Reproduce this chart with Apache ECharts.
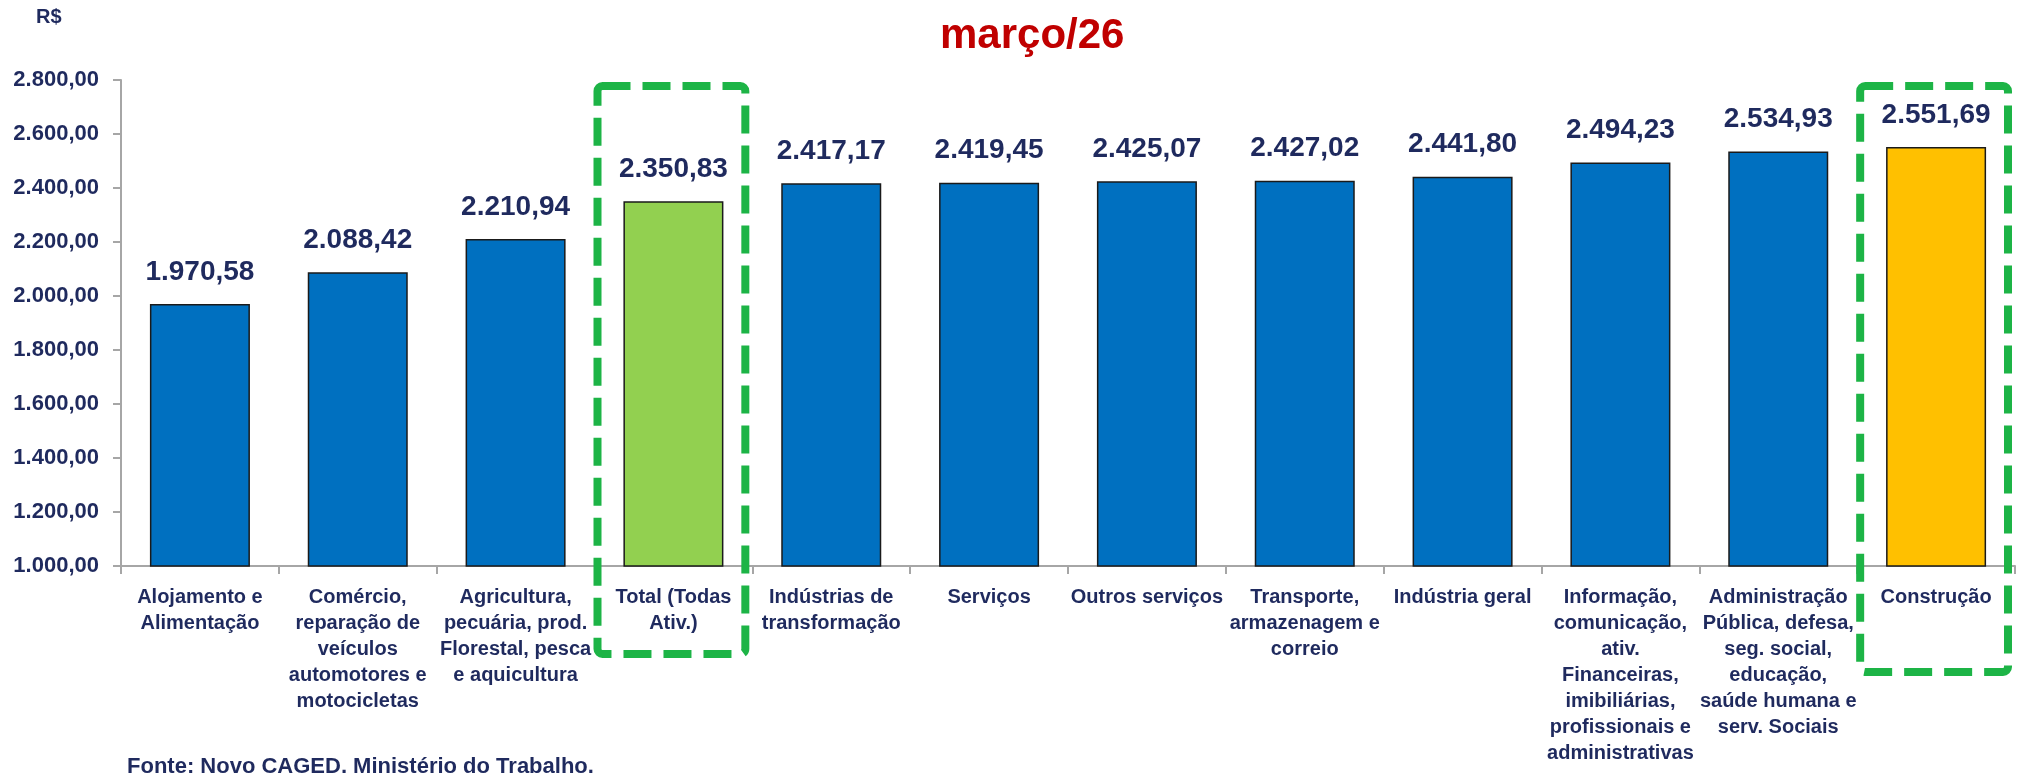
<!DOCTYPE html>
<html>
<head>
<meta charset="utf-8">
<script src="https://cdn.jsdelivr.net/npm/echarts@6/dist/echarts.min.js"></script>
<style>
  html, body { margin: 0; padding: 0; background: #fff; }
  #main { width: 2018px; height: 773px; }
</style>
</head>
<body>
<div id="main"></div>
<script>
// categorias (quebras de linha como no gráfico original)
const categories = [
  'Alojamento e\nAlimentação',
  'Comércio,\nreparação de\nveículos\nautomotores e\nmotocicletas',
  'Agricultura,\npecuária, prod.\nFlorestal, pesca\ne aquicultura',
  'Total (Todas\nAtiv.)',
  'Indústrias de\ntransformação',
  'Serviços',
  'Outros serviços',
  'Transporte,\narmazenagem e\ncorreio',
  'Indústria geral',
  'Informação,\ncomunicação,\nativ.\nFinanceiras,\nimibiliárias,\nprofissionais e\nadministrativas',
  'Administração\nPública, defesa,\nseg. social,\neducação,\nsaúde humana e\nserv. Sociais',
  'Construção'
];
// salário médio de admissão (R$)
const salaries = [1970.58, 2088.42, 2210.94, 2350.83, 2417.17, 2419.45, 2425.07, 2427.02, 2441.80, 2494.23, 2534.93, 2551.69];
const barColors = ['#0070C0', '#0070C0', '#0070C0', '#92D050', '#0070C0', '#0070C0', '#0070C0', '#0070C0', '#0070C0', '#0070C0', '#0070C0', '#FFC000'];
const highlighted = [3, 11];   // caixas tracejadas
const boxBottoms = [654, 672];
const yMin = 1000, yMax = 2800, yStep = 200;

const navy = '#1F2A5E';
const font = '"Liberation Sans", Arial, sans-serif';

function brl(v) {
  return v.toLocaleString('pt-BR', { minimumFractionDigits: 2, maximumFractionDigits: 2 });
}

const chart = echarts.init(document.getElementById('main'));

chart.setOption({
  animation: false,
  title: {
    text: 'março/26',
    left: 935, top: 10,
    textStyle: { color: '#C00000', fontSize: 42, fontWeight: 'bold', fontFamily: font }
  },
  grid: { left: 121, right: 3, top: 80, bottom: 207, containLabel: false, outerBoundsMode: 'none' },
  xAxis: {
    type: 'category',
    data: categories,
    axisLine: { lineStyle: { color: '#A6A6A6', width: 2 } },
    axisTick: { show: true, alignWithLabel: false, length: 8, lineStyle: { color: '#A6A6A6', width: 2 } },
    axisLabel: {
      interval: 0, margin: 18,
      color: navy, fontSize: 20, fontWeight: 'bold', fontFamily: font, lineHeight: 26
    }
  },
  yAxis: {
    type: 'value',
    min: yMin, max: yMax, interval: yStep,
    splitLine: { show: false },
    axisLine: { show: true, lineStyle: { color: '#A6A6A6', width: 2 } },
    axisTick: { show: true, length: 8, lineStyle: { color: '#A6A6A6', width: 2 } },
    axisLabel: {
      margin: 22, color: navy, fontSize: 22, fontWeight: 'bold', fontFamily: font,
      formatter: brl
    }
  },
  series: [{
    type: 'bar',
    barWidth: 100,
    data: salaries.map((v, i) => ({ value: v, itemStyle: { color: barColors[i] } })),
    itemStyle: { borderColor: '#1a1a1a', borderWidth: 1.5 },
    label: {
      show: true, position: 'top', distance: 18,
      color: navy, fontSize: 28, fontWeight: 'bold', fontFamily: font,
      formatter: p => brl(p.value)
    }
  }]
});

// caixas tracejadas em torno das categorias destacadas
const yTop = chart.convertToPixel({ yAxisIndex: 0 }, yMax) + 6;
const step = chart.convertToPixel({ xAxisIndex: 0 }, 1) - chart.convertToPixel({ xAxisIndex: 0 }, 0);
const graphics = [
  {
    id: 'rs', type: 'text', left: 36, top: 7,
    style: { text: 'R$', fill: navy, font: 'bold 20px ' + font }
  },
  {
    id: 'fonte', type: 'text', left: 127, top: 756,
    style: { text: 'Fonte: Novo CAGED, Ministério do Trabalho.', fill: navy, font: 'bold 22px ' + font }
  }
];
highlighted.forEach((idx, k) => {
  const cx = chart.convertToPixel({ xAxisIndex: 0 }, idx);
  graphics.push({
    id: 'box' + k,
    type: 'rect',
    shape: { x: cx - step / 2 + 3, y: yTop, width: step - 10, height: boxBottoms[k] - yTop, r: 5 },
    style: { fill: 'none', stroke: '#1DB446', lineWidth: 8, lineDash: [28, 12] },
    z: 100
  });
});
chart.setOption({ graphic: graphics });
</script>
</body>
</html>
